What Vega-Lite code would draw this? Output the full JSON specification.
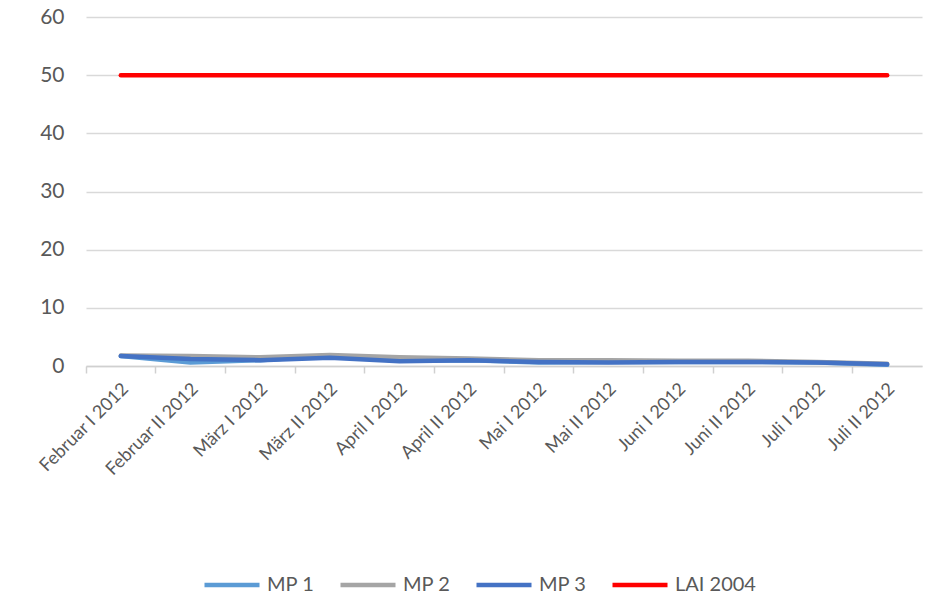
{
  "$schema": "https://vega.github.io/schema/vega-lite/v6.json",
  "width": 836,
  "height": 349,
  "autosize": {"type": "none"},
  "padding": {"left": 86, "top": 17, "right": 4, "bottom": 230},
  "background": "white",
  "config": {
    "font": "Lato",
    "view": {"stroke": null},
    "axis": {"labelFont": "Lato", "labelColor": "#595959"}
  },
  "data": {
    "values": [
      {"p": "Februar I 2012", "s": "MP 1", "v": 1.7},
      {"p": "Februar II 2012", "s": "MP 1", "v": 0.6},
      {"p": "März I 2012", "s": "MP 1", "v": 1.0},
      {"p": "März II 2012", "s": "MP 1", "v": 1.8},
      {"p": "April I 2012", "s": "MP 1", "v": 0.9},
      {"p": "April II 2012", "s": "MP 1", "v": 1.0},
      {"p": "Mai I 2012", "s": "MP 1", "v": 0.6},
      {"p": "Mai II 2012", "s": "MP 1", "v": 0.7},
      {"p": "Juni I 2012", "s": "MP 1", "v": 0.7},
      {"p": "Juni II 2012", "s": "MP 1", "v": 0.7},
      {"p": "Juli I 2012", "s": "MP 1", "v": 0.6},
      {"p": "Juli II 2012", "s": "MP 1", "v": 0.2},
      {"p": "Februar I 2012", "s": "MP 2", "v": 1.8},
      {"p": "Februar II 2012", "s": "MP 2", "v": 1.7},
      {"p": "März I 2012", "s": "MP 2", "v": 1.5},
      {"p": "März II 2012", "s": "MP 2", "v": 1.9},
      {"p": "April I 2012", "s": "MP 2", "v": 1.5},
      {"p": "April II 2012", "s": "MP 2", "v": 1.3},
      {"p": "Mai I 2012", "s": "MP 2", "v": 1.0},
      {"p": "Mai II 2012", "s": "MP 2", "v": 1.0},
      {"p": "Juni I 2012", "s": "MP 2", "v": 0.9},
      {"p": "Juni II 2012", "s": "MP 2", "v": 0.9},
      {"p": "Juli I 2012", "s": "MP 2", "v": 0.7},
      {"p": "Juli II 2012", "s": "MP 2", "v": 0.4},
      {"p": "Februar I 2012", "s": "MP 3", "v": 1.7},
      {"p": "Februar II 2012", "s": "MP 3", "v": 1.2},
      {"p": "März I 2012", "s": "MP 3", "v": 1.0},
      {"p": "März II 2012", "s": "MP 3", "v": 1.4},
      {"p": "April I 2012", "s": "MP 3", "v": 0.8},
      {"p": "April II 2012", "s": "MP 3", "v": 1.0},
      {"p": "Mai I 2012", "s": "MP 3", "v": 0.7},
      {"p": "Mai II 2012", "s": "MP 3", "v": 0.6},
      {"p": "Juni I 2012", "s": "MP 3", "v": 0.7},
      {"p": "Juni II 2012", "s": "MP 3", "v": 0.7},
      {"p": "Juli I 2012", "s": "MP 3", "v": 0.6},
      {"p": "Juli II 2012", "s": "MP 3", "v": 0.3},
      {"p": "Februar I 2012", "s": "LAI 2004", "v": 50},
      {"p": "Februar II 2012", "s": "LAI 2004", "v": 50},
      {"p": "März I 2012", "s": "LAI 2004", "v": 50},
      {"p": "März II 2012", "s": "LAI 2004", "v": 50},
      {"p": "April I 2012", "s": "LAI 2004", "v": 50},
      {"p": "April II 2012", "s": "LAI 2004", "v": 50},
      {"p": "Mai I 2012", "s": "LAI 2004", "v": 50},
      {"p": "Mai II 2012", "s": "LAI 2004", "v": 50},
      {"p": "Juni I 2012", "s": "LAI 2004", "v": 50},
      {"p": "Juni II 2012", "s": "LAI 2004", "v": 50},
      {"p": "Juli I 2012", "s": "LAI 2004", "v": 50},
      {"p": "Juli II 2012", "s": "LAI 2004", "v": 50}
    ]
  },
  "mark": {"type": "line", "strokeWidth": 4.5, "strokeCap": "round", "strokeJoin": "round"},
  "encoding": {
    "x": {
      "field": "p",
      "type": "nominal",
      "sort": null,
      "bandPosition": 0.5,
      "scale": {"type": "band", "paddingInner": 0, "paddingOuter": 0},
      "axis": {
        "title": null,
        "bandPosition": 0,
        "labelAngle": -45,
        "labelAlign": "right",
        "labelBaseline": "middle",
        "labelPadding": 13,
        "labelOffset": 5,
        "labelFontSize": 18,
        "domainColor": "#d0d0d0",
        "domainWidth": 1.5,
        "tickColor": "#d0d0d0",
        "tickWidth": 1.5,
        "tickSize": 7,
        "grid": false
      }
    },
    "y": {
      "field": "v",
      "type": "quantitative",
      "scale": {"domain": [0, 60], "nice": false},
      "axis": {
        "title": null,
        "values": [0, 10, 20, 30, 40, 50, 60],
        "domain": false,
        "ticks": false,
        "labelPadding": 22,
        "labelFontSize": 21,
        "grid": true,
        "gridColor": "#d9d9d9",
        "gridWidth": 1.5
      }
    },
    "color": {
      "field": "s",
      "type": "nominal",
      "sort": null,
      "scale": {
        "domain": ["MP 1", "MP 2", "MP 3", "LAI 2004"],
        "range": ["#5B9BD5", "#A5A5A5", "#4472C4", "#FF0000"]
      },
      "legend": {
        "title": null,
        "orient": "none",
        "direction": "horizontal",
        "legendX": 116,
        "legendY": 538,
        "padding": 0,
        "symbolType": "stroke",
        "symbolSize": 3025,
        "symbolStrokeWidth": 4.5,
        "labelFont": "Lato",
        "labelFontSize": 20,
        "labelColor": "#595959",
        "labelOffset": 5,
        "columnPadding": 16
      }
    }
  }
}
